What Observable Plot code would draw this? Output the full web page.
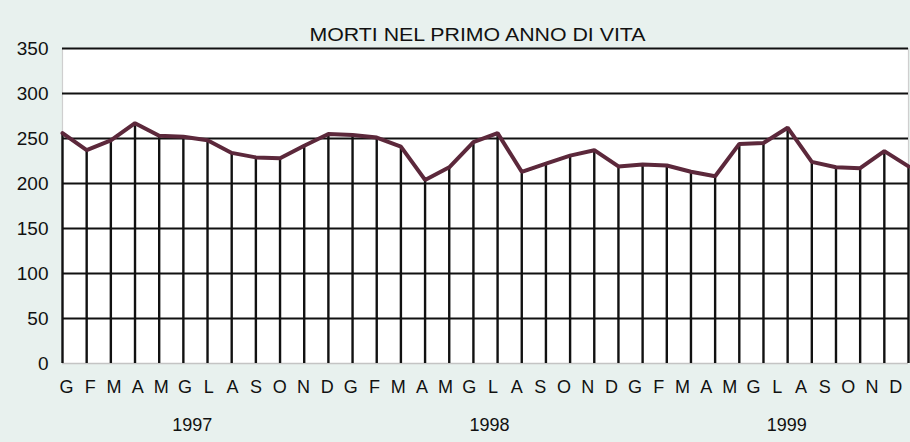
<!DOCTYPE html>
<html>
<head>
<meta charset="utf-8">
<script src="https://cdn.jsdelivr.net/npm/d3@7"></script>
<script src="https://cdn.jsdelivr.net/npm/@observablehq/plot@0.6"></script>
<style>
  html, body { margin: 0; padding: 0; background: #e8f1ee; }
  #chart { width: 910px; height: 442px; }
  svg { display: block; }
</style>
</head>
<body>
<div id="chart"></div>
<script>
// ---- data ----
const title = "MORTI NEL PRIMO ANNO DI VITA";
const monthLabels = ["G","F","M","A","M","G","L","A","S","O","N","D"];
const years = ["1997", "1998", "1999"];
const deaths = [
  256, 237, 248, 267, 253, 252, 248, 234, 229, 228, 242, 255,
  254, 251, 241, 204, 218, 246, 256, 213, 222, 231, 237, 219,
  221, 220, 213, 208, 244, 245, 262, 224, 218, 217, 236, 219
];
const yTicks = [0, 50, 100, 150, 200, 250, 300, 350];

// ---- tables built from the arrays ----
const data = deaths.map((v, i) => ({i, v}));
// month labels are laid out slightly tighter than the data points
const labelStep = 0.98, labelStart = 0.17;
const months = deaths.map((_, i) => ({x: labelStart + i * labelStep, t: monthLabels[i % 12]}));
const yearSpacing = 12.55, yearStart = 5.3;
const yearRows = years.map((y, k) => ({x: labelStart + (yearStart + k * yearSpacing) * labelStep, t: y}));

const font = "Liberation Sans, Arial, Helvetica, sans-serif";

const chart = Plot.plot({
  width: 910,
  height: 442,
  marginLeft: 62,
  marginRight: 2,
  marginTop: 48,
  marginBottom: 79,
  style: {background: "transparent", fontFamily: font, color: "#111"},
  x: {domain: [0, deaths.length - 1], axis: null},
  y: {domain: [0, 350], axis: null},
  marks: [
    Plot.frame({fill: "white", stroke: null}),
    Plot.ruleX([0, deaths.length - 1], {stroke: "#cfcfcf", strokeWidth: 1.2}),
    Plot.ruleY(yTicks.filter(d => d > 0), {stroke: "#111", strokeWidth: 2}),
    Plot.ruleY([0], {stroke: "#c4c4c4", strokeWidth: 1.5}),
    Plot.ruleX(data, {x: "i", y1: 0, y2: "v", stroke: "#111", strokeWidth: 2.4}),
    Plot.line(data, {x: "i", y: "v", stroke: "#5c283b", strokeWidth: 4, strokeLinejoin: "miter"}),
    Plot.axisY({ticks: yTicks, tickSize: 0, tickPadding: 14, fontSize: 19, label: null}),
    Plot.text(months, {x: "x", text: "t", frameAnchor: "bottom", dy: 29, fontSize: 18, fill: "#111"}),
    Plot.text(yearRows, {x: "x", text: "t", frameAnchor: "bottom", dy: 67, fontSize: 18, fill: "#111"}),
    Plot.text([title], {text: d => d, frameAnchor: "top", dx: 477 - (62 + (910 - 64) / 2), dy: -20, fontSize: 18, fill: "#111", fontFamily: "Liberation Sans Narrow, Arial Narrow, " + font})
  ]
});
document.getElementById("chart").appendChild(chart);

// squeeze the title to the narrow width of the original
d3.select(chart).selectAll("text").filter(function() { return this.textContent === title; })
  .attr("textLength", 336).attr("lengthAdjust", "spacingAndGlyphs");
</script>
</body>
</html>
